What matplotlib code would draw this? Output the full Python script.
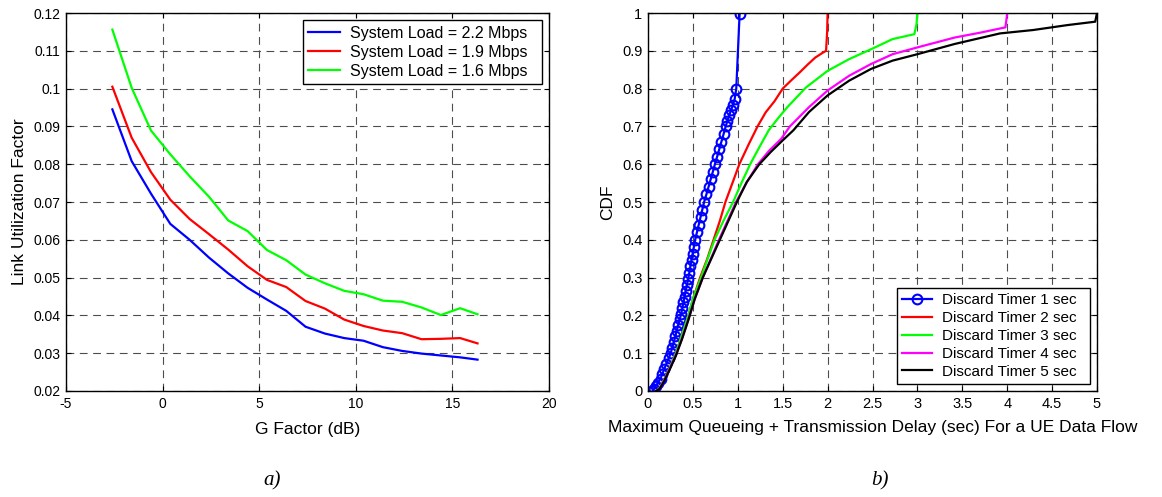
import matplotlib
matplotlib.use("Agg")
import matplotlib.pyplot as plt

plt.rcParams['font.family'] = ['Liberation Sans', 'DejaVu Sans']
plt.rcParams['axes.unicode_minus'] = False

# ---- panel a) link utilization vs G factor ----
g_factor = [-2.6, -1.6, -0.6, 0.4, 1.4, 2.4, 3.4, 4.4, 5.4, 6.4,
            7.4, 8.4, 9.4, 10.4, 11.4, 12.4, 13.4, 14.4, 15.4, 16.3]
util_22 = [0.0945, 0.0808, 0.0722, 0.0642, 0.0600, 0.0553, 0.0511, 0.0473, 0.0442, 0.0412,
           0.0370, 0.0352, 0.0340, 0.0333, 0.0316, 0.0306, 0.0299, 0.0294, 0.0289, 0.0283]
util_19 = [0.1005, 0.0870, 0.0779, 0.0706, 0.0655, 0.0615, 0.0574, 0.0530, 0.0494, 0.0475,
           0.0438, 0.0418, 0.0389, 0.0372, 0.0360, 0.0353, 0.0337, 0.0338, 0.0340, 0.0326]
util_16 = [0.1156, 0.1002, 0.0889, 0.0826, 0.0768, 0.0714, 0.0651, 0.0623, 0.0573, 0.0546,
           0.0508, 0.0485, 0.0465, 0.0456, 0.0439, 0.0436, 0.0421, 0.0401, 0.0419, 0.0403]
load_labels = ['System Load = 2.2 Mbps', 'System Load = 1.9 Mbps', 'System Load = 1.6 Mbps']

# ---- panel b) CDF of max queueing + transmission delay ----
t1_x = [0.05, 0.065, 0.085, 0.11, 0.14, 0.16, 0.18, 0.205, 0.23, 0.253, 0.27, 0.288, 0.305,
        0.32, 0.337, 0.354, 0.37, 0.383, 0.395, 0.408, 0.42, 0.433, 0.448, 0.46, 0.472,
        0.485, 0.497, 0.51, 0.525, 0.545, 0.565, 0.585, 0.605, 0.625, 0.65, 0.674, 0.698,
        0.722, 0.745, 0.77, 0.794, 0.818, 0.842, 0.865, 0.885, 0.905, 0.925, 0.945, 0.965,
        0.983, 1.02]
t1_y = [0.0, 0.005, 0.012, 0.022, 0.033, 0.045, 0.058, 0.072, 0.086, 0.1, 0.115, 0.13, 0.145,
        0.16, 0.175, 0.19, 0.205, 0.22, 0.235, 0.25, 0.265, 0.28, 0.297, 0.313, 0.33,
        0.347, 0.363, 0.38, 0.4, 0.42, 0.44, 0.46, 0.48, 0.5, 0.52, 0.54, 0.56,
        0.58, 0.6, 0.62, 0.64, 0.66, 0.68, 0.70, 0.715, 0.73, 0.743, 0.756, 0.772,
        0.8, 0.997]
t2_x = [0.09, 0.13, 0.18, 0.24, 0.31, 0.38, 0.45, 0.5, 0.58, 0.66, 0.73, 0.8, 0.862, 0.94,
        1.017, 1.12, 1.22, 1.31, 1.41, 1.5, 1.6, 1.69, 1.78, 1.862, 1.94, 1.983, 1.995, 2.0]
t2_y = [0.0, 0.008, 0.03, 0.06, 0.1, 0.15, 0.2, 0.243, 0.3, 0.35, 0.4, 0.45, 0.5, 0.55,
        0.6, 0.652, 0.7, 0.737, 0.767, 0.8, 0.823, 0.843, 0.864, 0.882, 0.894, 0.9, 0.95, 1.0]
t3_x = [0.09, 0.13, 0.18, 0.24, 0.31, 0.38, 0.45, 0.5, 0.59, 0.665, 0.741, 0.84, 0.948,
        1.04, 1.138, 1.24, 1.345, 1.45, 1.552, 1.759, 2.0, 2.24, 2.483, 2.724, 2.966,
        2.99, 3.0]
t3_y = [0.0, 0.008, 0.03, 0.06, 0.1, 0.15, 0.2, 0.243, 0.3, 0.35, 0.4, 0.45, 0.5,
        0.55, 0.6, 0.645, 0.69, 0.722, 0.751, 0.803, 0.847, 0.878, 0.904, 0.931, 0.944,
        0.97, 1.0]
t4_x = [0.09, 0.13, 0.18, 0.24, 0.31, 0.38, 0.45, 0.52, 0.61, 0.70, 0.79, 0.885, 0.98,
        1.1, 1.224, 1.35, 1.483, 1.58, 1.793, 2.0, 2.24, 2.483, 2.724, 3.0, 3.414, 3.7,
        3.98, 3.99, 4.0]
t4_y = [0.0, 0.007, 0.028, 0.058, 0.095, 0.14, 0.19, 0.243, 0.3, 0.35, 0.4, 0.45, 0.5,
        0.552, 0.6, 0.636, 0.667, 0.7, 0.751, 0.795, 0.834, 0.865, 0.891, 0.909, 0.935, 0.948,
        0.962, 0.98, 1.0]
t5_x = [0.09, 0.13, 0.18, 0.24, 0.31, 0.38, 0.45, 0.52, 0.61, 0.705, 0.8, 0.895, 0.99,
        1.1, 1.24, 1.37, 1.5, 1.62, 1.793, 2.0, 2.24, 2.483, 2.724, 3.0, 3.414, 3.92, 4.29,
        4.67, 4.98, 5.0]
t5_y = [0.0, 0.006, 0.026, 0.056, 0.093, 0.138, 0.188, 0.243, 0.3, 0.35, 0.4, 0.45, 0.5,
        0.553, 0.6, 0.633, 0.663, 0.69, 0.738, 0.782, 0.821, 0.852, 0.874, 0.891, 0.918,
        0.946, 0.955, 0.968, 0.977, 1.0]
timer_labels = ['Discard Timer 1 sec', 'Discard Timer 2 sec', 'Discard Timer 3 sec',
                'Discard Timer 4 sec', 'Discard Timer 5 sec']


def matlab_style(ax, tick_size):
    ax.grid(True, color='0.3', linestyle=(0, (7, 5)), linewidth=0.8)
    ax.tick_params(direction='in', top=True, right=True, length=3.5,
                   labelsize=tick_size, pad=4)
    for sp in ax.spines.values():
        sp.set_linewidth(1.0)


def matlab_legend(ax, loc, size):
    # trailing spaces give the wider right margin of a MATLAB legend box
    handles, labels = ax.get_legend_handles_labels()
    leg = ax.legend(handles, [lab + '  ' for lab in labels], loc=loc, fontsize=size,
                    fancybox=False, framealpha=1, edgecolor='k', handlelength=2.0,
                    handletextpad=0.6, borderaxespad=0.45, labelspacing=0.25,
                    borderpad=0.35)
    leg.get_frame().set_linewidth(1.0)
    return leg


fig = plt.figure(figsize=(11.62, 4.97), dpi=100)
ax1 = fig.add_axes([66 / 1162, 106 / 497, 483 / 1162, 378 / 497])
ax2 = fig.add_axes([648 / 1162, 106 / 497, 449 / 1162, 378 / 497])

# Plot a)
ax1.plot(g_factor, util_22, color='#0000ff', lw=1.6, label=load_labels[0])
ax1.plot(g_factor, util_19, color='#ff0000', lw=1.6, label=load_labels[1])
ax1.plot(g_factor, util_16, color='#00ff00', lw=1.6, label=load_labels[2])
ax1.set_xlim(-5, 20)
ax1.set_ylim(0.02, 0.12)
ax1.set_xticks([-5, 0, 5, 10, 15, 20])
yt = [0.02, 0.03, 0.04, 0.05, 0.06, 0.07, 0.08, 0.09, 0.1, 0.11, 0.12]
ax1.set_yticks(yt)
ax1.set_yticklabels(['%g' % v for v in yt])
matlab_style(ax1, 10)
ax1.set_xlabel('G Factor (dB)', fontsize=12.5)
ax1.set_ylabel('Link Utilization Factor', fontsize=12.5)
ax1.xaxis.set_label_coords(0.5, -0.082)
ax1.yaxis.set_label_coords(-0.081, 0.5)
matlab_legend(ax1, 'upper right', 11.5)

# Plot b)
ax2.plot(t1_x, t1_y, color='#0000ff', lw=1.6, marker='o', markersize=7,
         markerfacecolor='none', markeredgewidth=1.5, label=timer_labels[0])
ax2.plot(t2_x, t2_y, color='#ff0000', lw=1.6, label=timer_labels[1])
ax2.plot(t3_x, t3_y, color='#00ff00', lw=1.6, label=timer_labels[2])
ax2.plot(t4_x, t4_y, color='#ff00ff', lw=1.6, label=timer_labels[3])
ax2.plot(t5_x, t5_y, color='k', lw=1.6, label=timer_labels[4])
ax2.set_xlim(0, 5)
ax2.set_ylim(0, 1)
xt = [0, 0.5, 1, 1.5, 2, 2.5, 3, 3.5, 4, 4.5, 5]
ax2.set_xticks(xt)
ax2.set_xticklabels(['%g' % v for v in xt])
yt2 = [0, 0.1, 0.2, 0.3, 0.4, 0.5, 0.6, 0.7, 0.8, 0.9, 1]
ax2.set_yticks(yt2)
ax2.set_yticklabels(['%g' % v for v in yt2])
matlab_style(ax2, 10.5)
ax2.set_xlabel('Maximum Queueing + Transmission Delay (sec) For a UE Data Flow', fontsize=12.5)
ax2.set_ylabel('CDF', fontsize=12.5)
ax2.xaxis.set_label_coords(0.5, -0.077)
ax2.yaxis.set_label_coords(-0.0735, 0.5)
matlab_legend(ax2, 'lower right', 11)

fig.text(272 / 1162, 16 / 497, 'a)', family='Liberation Serif', style='italic',
         fontsize=15, ha='center', va='center')
fig.text(880 / 1162, 16 / 497, 'b)', family='Liberation Serif', style='italic',
         fontsize=15, ha='center', va='center')

fig.savefig('out.png', dpi=100)
plt.close(fig)
